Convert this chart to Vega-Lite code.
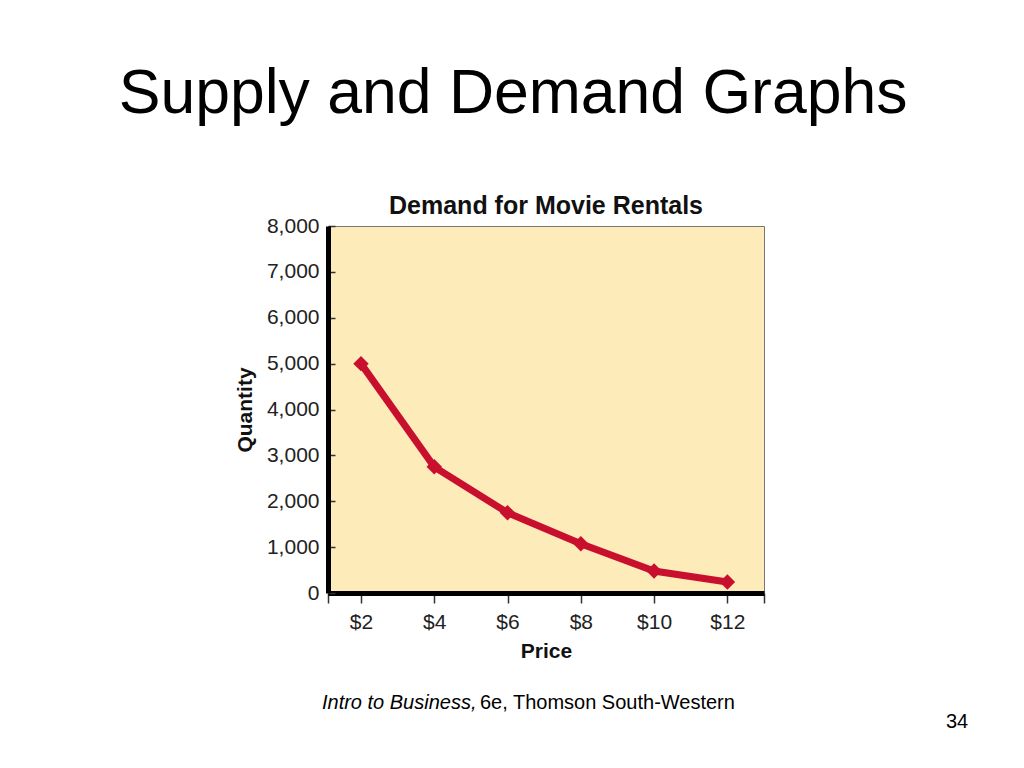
{
  "$schema": "https://vega.github.io/schema/vega-lite/v6.json",
  "background": "white",
  "padding": {"left": 118, "top": 63, "right": 0, "bottom": 0},
  "config": {
    "font": "Liberation Sans",
    "view": {"stroke": "#777", "strokeWidth": 1, "fill": "#FDEBBA"},
    "concat": {"spacing": 0}
  },
  "title": {
    "text": "Supply and Demand Graphs",
    "fontSize": 62.5,
    "fontWeight": "normal",
    "color": "black",
    "anchor": "middle",
    "dx": -88,
    "offset": 67
  },
  "vconcat": [
    {
      "title": {
        "text": "34",
        "orient": "bottom",
        "anchor": "end",
        "fontSize": 20,
        "fontWeight": "normal",
        "color": "black",
        "dx": 203,
        "offset": -1
      },
      "vconcat": [
        {
          "title": {
            "text": "6e, Thomson South-Western",
            "orient": "bottom",
            "anchor": "start",
            "fontSize": 20,
            "fontWeight": "normal",
            "color": "black",
            "dx": 246,
            "dy": -20,
            "offset": 0
          },
          "vconcat": [
            {
              "title": {
                "text": "Intro to Business,",
                "orient": "bottom",
                "anchor": "start",
                "fontSize": 20,
                "fontStyle": "italic",
                "fontWeight": "normal",
                "color": "black",
                "dx": 88,
                "offset": 31
              },
              "vconcat": [
                {
                  "width": 436,
                  "height": 367,
                  "title": {
                    "text": "Demand for Movie Rentals",
                    "fontSize": 25,
                    "fontWeight": "bold",
                    "color": "#111",
                    "anchor": "middle",
                    "offset": -4
                  },
                  "data": {
                    "values": [
                      {"Price": 2, "Quantity": 5000},
                      {"Price": 4, "Quantity": 2750},
                      {"Price": 6, "Quantity": 1750},
                      {"Price": 8, "Quantity": 1075},
                      {"Price": 10, "Quantity": 480},
                      {"Price": 12, "Quantity": 240}
                    ]
                  },
                  "encoding": {
                    "x": {
                      "field": "Price",
                      "type": "quantitative",
                      "scale": {"domain": [1.1, 13], "nice": false, "zero": false},
                      "axis": {
                        "title": "Price",
                        "values": [1.1, 2, 4, 6, 8, 10, 12, 13],
                        "labelExpr": "datum.value >= 2 && datum.value <= 12 ? '$' + datum.value : ''",
                        "grid": false,
                        "zindex": 1,
                        "domainColor": "black",
                        "domainWidth": 5,
                        "tickColor": "#333",
                        "tickWidth": 1.5,
                        "tickSize": 10,
                        "labelFontSize": 21,
                        "labelColor": "#222",
                        "labelPadding": 8,
                        "titleFontSize": 21,
                        "titleFontWeight": "bold",
                        "titleColor": "#111",
                        "titlePadding": 8
                      }
                    },
                    "y": {
                      "field": "Quantity",
                      "type": "quantitative",
                      "scale": {"domain": [0, 8000], "nice": false},
                      "axis": {
                        "title": "Quantity",
                        "values": [0, 1000, 2000, 3000, 4000, 5000, 6000, 7000, 8000],
                        "format": ",d",
                        "grid": false,
                        "zindex": 1,
                        "domainColor": "black",
                        "domainWidth": 5,
                        "tickColor": "#333",
                        "tickWidth": 1.5,
                        "tickSize": -7,
                        "labelFontSize": 21,
                        "labelColor": "#222",
                        "labelPadding": 16,
                        "titleFontSize": 21,
                        "titleFontWeight": "bold",
                        "titleColor": "#111",
                        "titlePadding": 11
                      }
                    }
                  },
                  "layer": [
                    {
                      "mark": {"type": "line", "color": "#C8102E", "strokeWidth": 7}
                    },
                    {
                      "mark": {"type": "point", "shape": "diamond", "filled": true, "size": 240, "color": "#C8102E", "opacity": 1}
                    }
                  ]
                }
              ]
            }
          ]
        }
      ]
    }
  ]
}
